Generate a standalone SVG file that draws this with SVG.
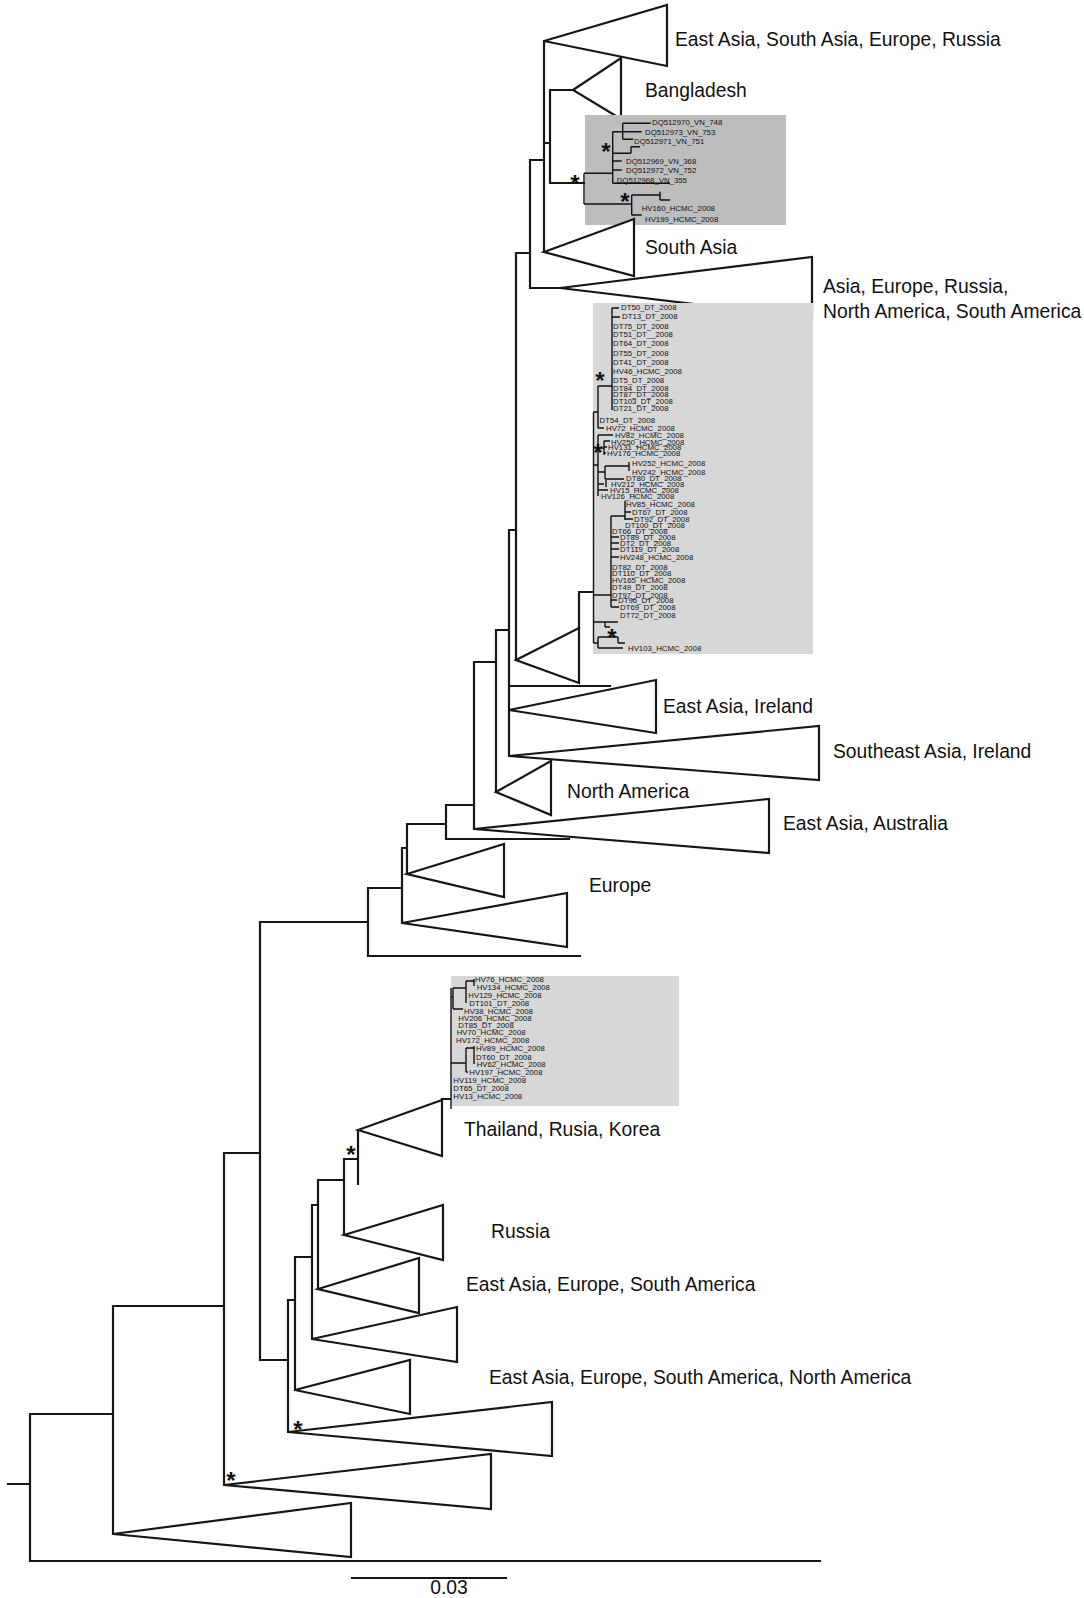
<svg xmlns="http://www.w3.org/2000/svg" width="1084" height="1598" viewBox="0 0 1084 1598">
<style>
.br{fill:none;stroke:#161616;stroke-width:2.2;stroke-linecap:square}
.tri{fill:#fff;stroke:#161616;stroke-width:2.2;stroke-linejoin:miter}
.ib{fill:none;stroke:#111;stroke-width:1.4}
.lab{font-family:"Liberation Sans",Arial,sans-serif;font-size:19.3px;fill:#111}
.lf{font-family:"Liberation Sans",Arial,sans-serif;font-size:7.8px;fill:#111}
.st{font-family:"Liberation Sans",Arial,sans-serif;font-size:24px;fill:#111;text-anchor:middle;font-weight:bold}
</style>
<rect width="1084" height="1598" fill="#fff"/>

<g id="connectors">
<path class="br" d="M8 1484H30 M30 1414V1561 M30 1414H113 M30 1561H820
M113 1306V1534 M113 1306H224
M224 1153V1485 M224 1153H260
M260 922V1360 M260 922H368 M260 1360H288
M288 1300V1432 M288 1300H295
M295 1257V1390 M295 1257H312
M312 1205V1339 M312 1205H318
M318 1180V1289 M318 1180H344
M344 1159V1235 M344 1159H358
M358 1130V1184
M368 888V956 M368 888H402 M368 956H580
M402 848V923 M402 848H407
M407 824V874 M407 824H446
M446 805V839 M446 805H474 M446 839H569
M474 662V829 M474 662H496
M496 630V792 M496 630H509
M509 530V756 M509 530H516 M509 686H610
M516 253V660 M516 253H530
M579 592V628 M579 592H593
M530 160V288 M530 160H544 M530 288H560
M544 41V252 M544 143H550
M550 90V183 M550 90H573 M550 183H584
M442 1099H451"/>
</g>

<g id="clade-east-asia-south-asia-europe-russia">
<polygon class="tri" points="544,41 667,5 667,66"/>
<text class="lab" x="675" y="46">East Asia, South Asia, Europe, Russia</text>
</g>
<g id="clade-bangladesh">
<polygon class="tri" points="573,90 621,58 621,119"/>
<text class="lab" x="645" y="97">Bangladesh</text>
</g>

<g id="box-vn-dq">
<rect x="585" y="115" width="201" height="110" fill="#bdbdbd"/>
<path class="ib" d="M584 173.3V204 M584 173.3H612.7 M612.7 131.7V183.3 M612.7 131.7H641.7 M622.7 123.3V139.3 M622.7 123.3H650.7 M622.7 139.3H633.3
M612.7 153.3H631 M631 146.7V153.3 M631 146.7H640
M612.7 161H621.7 M612.7 170H621.7 M612.7 183.3H670
M584 204H631.7 M631.7 195V215 M631.7 195H660 M660 191.7V200 M660 200H670 M631.7 215H641.7"/>
<text class="lf" x="652" y="124.5">DQ512970_VN_748</text>
<text class="lf" x="645" y="134.5">DQ512973_VN_753</text>
<text class="lf" x="634" y="143.5">DQ512971_VN_751</text>
<text class="lf" x="626" y="164">DQ512969_VN_368</text>
<text class="lf" x="626" y="173">DQ512972_VN_752</text>
<text class="lf" x="616.7" y="183">DQ512968_VN_355</text>
<text class="lf" x="641.7" y="211.3">HV160_HCMC_2008</text>
<text class="lf" x="645" y="222">HV199_HCMC_2008</text>
</g>

<g id="clade-south-asia">
<polygon class="tri" points="544,252 634,219 634,276"/>
<text class="lab" x="645" y="254">South Asia</text>
</g>
<g id="clade-asia-europe-russia-america">
<polygon class="tri" points="560,288 812,257 812,318"/>
<text class="lab" x="823" y="293" font-size="19">Asia, Europe, Russia,</text>
<text class="lab" x="823" y="318" font-size="19">North America, South America</text>
</g>

<g id="box-dt-hcmc">
<rect x="593" y="303" width="220" height="351" fill="#d7d7d7"/>
<path class="ib" d="M593.5 412V643 M593.5 412H598 M598 386V428 M598 386H612 M612 308V410 M612 308H619 M612 317H620 M598 428H604
M598 435H613 M598 435V496 M593.5 465H598 M598 448H604 M604 441V455 M604 441H610 M604 447H607 M604 453H606
M598 472H605 M605 466V479 M605 466H629 M629 462V471 M605 479H624
M598 484H604 M606 480V487 M598 490H608
M593.5 595H611 M611 516V607 M611 516H625 M625 501V520 M625 512H631 M625 519H633
M611 537H619 M611 543H619 M611 549H619 M611 557H619 M611 600H617 M611 607H619
M593.5 622H618 M605 622V627 M605 627H610
M593.5 643H598 M598 637V648 M598 637H618 M618 637V643 M618 643H625 M598 648H623"/>
<text class="lf" x="621" y="310">DT50_DT_2008</text>
<text class="lf" x="622" y="319">DT13_DT_2008</text>
<text class="lf" x="613" y="328.7">DT75_DT_2008</text>
<text class="lf" x="613" y="337.3">DT51_DT__2008</text>
<text class="lf" x="613" y="346.3">DT64_DT_2008</text>
<text class="lf" x="613" y="355.7">DT55_DT_2008</text>
<text class="lf" x="613" y="364.7">DT41_DT_2008</text>
<text class="lf" x="613" y="373.7">HV46_HCMC_2008</text>
<text class="lf" x="613" y="383">DT5_DT_2008</text>
<text class="lf" x="613" y="390.7">DT84_DT_2008</text>
<text class="lf" x="613" y="397.3">DT87_DT_2008</text>
<text class="lf" x="613" y="404">DT103_DT_2008</text>
<text class="lf" x="613" y="411.3">DT21_DT_2008</text>
<text class="lf" x="599.5" y="423">DT54_DT_2008</text>
<text class="lf" x="606" y="430.7">HV72_HCMC_2008</text>
<text class="lf" x="615" y="437.5">HV82_HCMC_2008</text>
<text class="lf" x="611" y="444.5">HV250_HCMC_2008</text>
<text class="lf" x="608" y="450">HV131_HCMC_2008</text>
<text class="lf" x="607" y="456.3">HV176_HCMC_2008</text>
<text class="lf" x="632" y="466">HV252_HCMC_2008</text>
<text class="lf" x="632" y="474.5">HV242_HCMC_2008</text>
<text class="lf" x="626" y="481">DT80_DT_2008</text>
<text class="lf" x="611" y="486.5">HV212_HCMC_2008</text>
<text class="lf" x="610" y="493">HV15_HCMC_2008</text>
<text class="lf" x="601" y="499">HV126_HCMC_2008</text>
<text class="lf" x="626" y="507">HV85_HCMC_2008</text>
<text class="lf" x="632" y="514.7">DT67_DT_2008</text>
<text class="lf" x="634" y="522">DT92_DT_2008</text>
<text class="lf" x="625" y="528">DT100_DT_2008</text>
<text class="lf" x="612" y="534">DT66_DT_2008</text>
<text class="lf" x="620" y="540.3">DT89_DT_2008</text>
<text class="lf" x="620" y="546.3">DT2_DT_2008</text>
<text class="lf" x="620" y="552">DT119_DT_2008</text>
<text class="lf" x="620" y="559.7">HV248_HCMC_2008</text>
<text class="lf" x="612" y="569.7">DT82_DT_2008</text>
<text class="lf" x="612" y="576.3">DT110_DT_2008</text>
<text class="lf" x="612" y="583">HV165_HCMC_2008</text>
<text class="lf" x="612" y="590.3">DT49_DT_2008</text>
<text class="lf" x="612" y="598">DT97_DT_2008</text>
<text class="lf" x="618" y="603">DT96_DT_2008</text>
<text class="lf" x="620" y="609.7">DT69_DT_2008</text>
<text class="lf" x="620" y="618">DT72_DT_2008</text>
<text class="lf" x="628" y="651">HV103_HCMC_2008</text>
</g>

<g id="clade-collapsed-1">
<polygon class="tri" points="516,660 579,628 579,683"/>
</g>
<g id="clade-east-asia-ireland">
<polygon class="tri" points="509,710 656,680 656,733"/>
<text class="lab" x="663" y="713">East Asia, Ireland</text>
</g>
<g id="clade-southeast-asia-ireland">
<polygon class="tri" points="509,756 819,726 819,780"/>
<text class="lab" x="833" y="758">Southeast Asia, Ireland</text>
</g>
<g id="clade-north-america">
<polygon class="tri" points="496,792 551,761 551,815"/>
<text class="lab" x="567" y="798">North America</text>
</g>
<g id="clade-east-asia-australia">
<polygon class="tri" points="474,829 769,799 769,853"/>
<text class="lab" x="783" y="830">East Asia, Australia</text>
</g>
<g id="clade-europe">
<polygon class="tri" points="407,874 504,844 504,897"/>
<polygon class="tri" points="402,923 567,893 567,947"/>
<text class="lab" x="589" y="892">Europe</text>
</g>

<g id="box-hcmc-dt-2">
<rect x="451" y="976" width="228" height="130" fill="#d7d7d7"/>
<path class="ib" d="M451 988V1109 M451 997H453 M453 988V1009 M453 988H466 M466 981V1003 M466 981H474 M474 979V986 M453 1009H463
M451 1063H466 M466 1048V1072 M466 1048H474 M474 1046V1064 M466 1072H468"/>
<text class="lf" x="475" y="982.3">HV76_HCMC_2008</text>
<text class="lf" x="476.7" y="989.7">HV134_HCMC_2008</text>
<text class="lf" x="468.3" y="998">HV129_HCMC_2008</text>
<text class="lf" x="469.3" y="1005.7">DT101_DT_2008</text>
<text class="lf" x="464" y="1013.7">HV38_HCMC_2008</text>
<text class="lf" x="458.3" y="1021.3">HV206_HCMC_2008</text>
<text class="lf" x="458.3" y="1028">DT85_DT_2008</text>
<text class="lf" x="456.7" y="1035.3">HV70_HCMC_2008</text>
<text class="lf" x="456" y="1043">HV172_HCMC_2008</text>
<text class="lf" x="476" y="1051.3">HV89_HCMC_2008</text>
<text class="lf" x="476" y="1059.7">DT60_DT_2008</text>
<text class="lf" x="476.7" y="1067">HV62_HCMC_2008</text>
<text class="lf" x="469.3" y="1075.3">HV197_HCMC_2008</text>
<text class="lf" x="453.3" y="1083">HV119_HCMC_2008</text>
<text class="lf" x="453.3" y="1090.7">DT65_DT_2008</text>
<text class="lf" x="453.3" y="1099">HV13_HCMC_2008</text>
</g>

<g id="clade-thailand-rusia-korea">
<polygon class="tri" points="358,1130 442,1100 442,1156"/>
<text class="lab" x="464" y="1136">Thailand, Rusia, Korea</text>
</g>
<g id="clade-russia">
<polygon class="tri" points="344,1235 443,1205 443,1260"/>
<text class="lab" x="491" y="1238">Russia</text>
</g>
<g id="clade-east-asia-europe-south-america">
<polygon class="tri" points="318,1289 419,1258 419,1313"/>
<text class="lab" x="466" y="1291">East Asia, Europe, South America</text>
</g>
<g id="clade-collapsed-4">
<polygon class="tri" points="312,1339 457,1307 457,1362"/>
</g>
<g id="clade-collapsed-5">
<polygon class="tri" points="295,1390 410,1360 410,1414"/>
</g>
<g id="clade-east-asia-europe-south-america-north-america">
<polygon class="tri" points="288,1432 552,1402 552,1456"/>
<text class="lab" x="489" y="1384">East Asia, Europe, South America, North America</text>
</g>
<g id="clade-collapsed-7">
<polygon class="tri" points="224,1485 491,1454 491,1509"/>
</g>
<g id="clade-collapsed-8">
<polygon class="tri" points="113,1534 351,1503 351,1557"/>
</g>

<g id="support-stars">
<text class="st" x="575" y="192">*</text>
<text class="st" x="606" y="160">*</text>
<text class="st" x="625" y="210">*</text>
<text class="st" x="600" y="389">*</text>
<text class="st" x="598" y="461">*</text>
<text class="st" x="612" y="646">*</text>
<text class="st" x="351" y="1163">*</text>
<text class="st" x="298" y="1438">*</text>
<text class="st" x="231" y="1489">*</text>
</g>

<g id="scale-bar">
<path class="br" d="M352 1578H506"/>
<text class="lab" x="449" y="1594" text-anchor="middle" font-size="18.5">0.03</text>
</g>
</svg>
